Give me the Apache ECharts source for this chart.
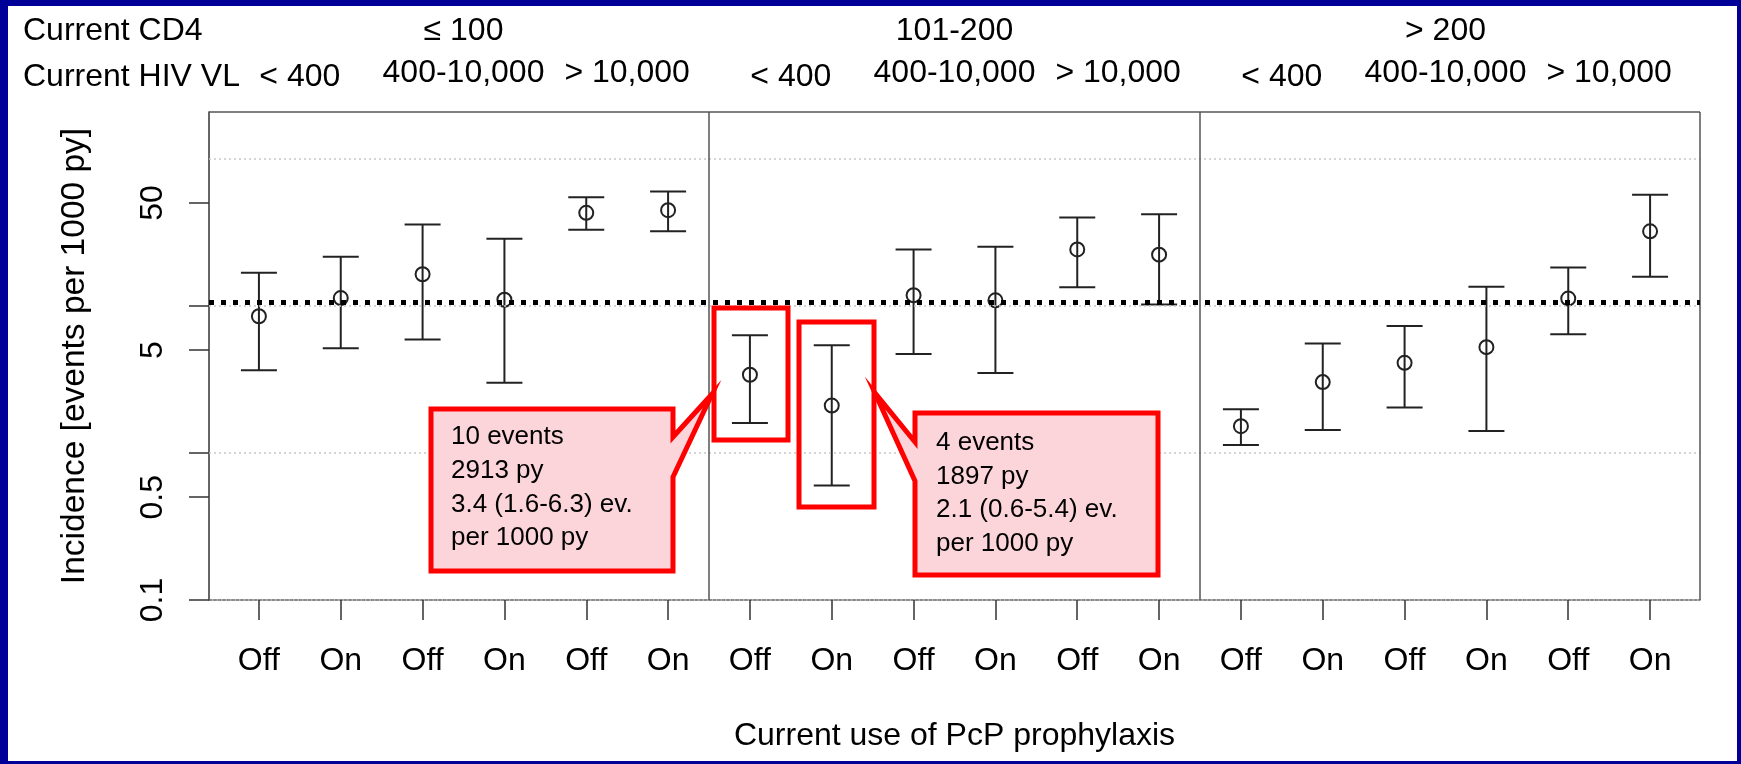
<!DOCTYPE html>
<html><head><meta charset="utf-8">
<script src="https://cdn.jsdelivr.net/npm/echarts@6/dist/echarts.min.js"></script>
<style>
html,body{margin:0;padding:0;width:1741px;height:764px;overflow:hidden;background:#000099;}
#panel{position:absolute;left:8px;top:6px;width:1729px;height:755px;background:#ffffff;}
#chart{position:absolute;left:0;top:0;width:1741px;height:764px;}
</style></head>
<body><div id="panel"></div><div id="chart"></div>
<script>
// ---------------- data ----------------
const categories = ['Off','On','Off','On','Off','On','Off','On','Off','On','Off','On','Off','On','Off','On','Off','On'];
const estimate = [8.5, 11.3, 16.4, 11.0, 42.9, 44.7, 3.4, 2.1, 11.8, 10.9, 24.2, 22.3, 1.52, 3.03, 4.1, 5.24, 11.2, 32.1];
const lower    = [3.65, 5.15, 5.9, 3.0, 32.9, 32.2, 1.6, 0.6, 4.7, 3.5, 13.4, 10.2, 1.13, 1.43, 2.04, 1.41, 6.4, 15.8];
const upper    = [16.8, 21.6, 35.7, 28.6, 54.8, 59.9, 6.3, 5.4, 24.2, 25.2, 39.9, 42.0, 1.98, 5.55, 7.3, 13.5, 18.2, 56.9];
const cd4Groups = ['≤ 100', '101-200', '> 200'];
const vlGroups  = ['< 400', '400-10,000', '> 10,000'];
const yTickValues  = [0.1, 0.5, 1, 5, 10, 50];
const yLabelValues = [0.1, 0.5, 5, 50];
const gridLineValues = [1, 10, 100];
const referenceRate = 10.5;
const panelBreaks = [6.5, 12.5];
const callout1Lines = ['10 events', '2913 py', '3.4 (1.6-6.3) ev.', 'per 1000 py'];
const callout2Lines = ['4 events', '1897 py', '2.1 (0.6-5.4) ev.', 'per 1000 py'];

// ---------------- layout constants ----------------
const XMIN = 0.39, XMAX = 18.61, YMIN = 0.1, YMAX = 208;
const FONT = '"Liberation Sans", Arial, sans-serif';
const xPositions = categories.map((c, i) => i + 1);
const rows = categories.map((c, i) => [i + 1, lower[i], upper[i], estimate[i]]);

const chart = echarts.init(document.getElementById('chart'), null, {renderer: 'canvas'});

const option = {
  animation: false,
  backgroundColor: 'transparent',
  textStyle: {fontFamily: FONT, color: '#000'},
  grid: {left: 209, right: 41, top: 112, bottom: 164, containLabel: false, show: false},
  xAxis: {
    type: 'value', min: XMIN, max: XMAX,
    axisLine: {show: true, onZero: false, lineStyle: {color: '#666', width: 1.5, type: [3, 1.5]}},
    axisTick: {show: true, customValues: xPositions, length: 20, lineStyle: {color: '#333', width: 1.5}},
    axisLabel: {show: true, customValues: xPositions, margin: 45, fontSize: 32, color: '#000', fontFamily: FONT,
      formatter: v => categories[Math.round(v) - 1] || ''},
    splitLine: {show: false},
    name: 'Current use of PcP prophylaxis', nameLocation: 'middle', nameGap: 120,
    nameTextStyle: {fontSize: 32, color: '#000', fontFamily: FONT}
  },
  yAxis: {
    type: 'log', logBase: 10, min: YMIN, max: YMAX,
    axisLine: {show: true, lineStyle: {color: '#333', width: 1.5}},
    axisTick: {show: true, customValues: yTickValues, length: 20, lineStyle: {color: '#333', width: 1.5}},
    axisLabel: {show: true, customValues: yLabelValues, rotate: 90, margin: 40, fontSize: 32, color: '#000', fontFamily: FONT,
      formatter: v => String(+(+v).toPrecision(3))},
    splitLine: {show: false},
    name: 'Incidence [events per 1000 py]', nameLocation: 'middle', nameRotate: 90, nameGap: 117,
    nameTextStyle: {fontSize: 33.5, color: '#000', fontFamily: FONT}
  },
  series: [
    {
      name: 'frame', type: 'line', data: [], z: 1, silent: true,
      markLine: {
        silent: true, symbol: ['none', 'none'], label: {show: false}, animation: false,
        data: [
          ...gridLineValues.map(v => ({yAxis: v, lineStyle: {color: '#c8c8c8', width: 1.5, type: [2, 3]}})),
          {yAxis: YMAX, lineStyle: {color: '#555', width: 1.5, type: 'solid'}},
          {xAxis: XMAX, lineStyle: {color: '#555', width: 1.5, type: 'solid'}},
          ...panelBreaks.map(v => ({xAxis: v, lineStyle: {color: '#555', width: 1.5, type: 'solid'}}))
        ]
      }
    },
    {
      name: 'errorbars', type: 'custom', z: 2, data: rows,
      encode: {x: 0, y: [1, 2, 3]},
      renderItem: function (params, api) {
        const x = api.value(0);
        const lo = api.coord([x, api.value(1)]);
        const hi = api.coord([x, api.value(2)]);
        const pt = api.coord([x, api.value(3)]);
        const cap = 18;
        const st = {stroke: '#222', lineWidth: 2, fill: null};
        return {type: 'group', children: [
          {type: 'line', shape: {x1: lo[0], y1: lo[1], x2: hi[0], y2: hi[1]}, style: st},
          {type: 'line', shape: {x1: lo[0] - cap, y1: lo[1], x2: lo[0] + cap, y2: lo[1]}, style: st},
          {type: 'line', shape: {x1: hi[0] - cap, y1: hi[1], x2: hi[0] + cap, y2: hi[1]}, style: st},
          {type: 'circle', shape: {cx: pt[0], cy: pt[1], r: 7}, style: {stroke: '#222', lineWidth: 2, fill: 'none'}}
        ]};
      }
    },
    {
      name: 'reference', type: 'line', data: [], z: 3, silent: true,
      markLine: {
        silent: true, symbol: ['none', 'none'], label: {show: false}, animation: false,
        data: [{yAxis: referenceRate, lineStyle: {color: '#000', width: 5, type: [5, 7]}}]
      }
    }
  ]
};
chart.setOption(option);

// ---------------- header labels and callouts ----------------
const px = v => chart.convertToPixel({xAxisIndex: 0}, v);
const graphics = [];
const txt = (text, x, y, align, size) => ({
  type: 'text', z: 10, silent: true,
  style: {text: text, x: x, y: y, fill: '#000', font: (size || 32) + 'px ' + FONT, textAlign: align || 'center', textVerticalAlign: 'middle'}
});
graphics.push(txt('Current CD4', 23, 31, 'left'));
graphics.push(txt('Current HIV VL', 23, 77, 'left'));
cd4Groups.forEach((g, p) => graphics.push(txt(g, px(p * 6 + 3.5), 31)));
for (let p = 0; p < 3; p++) {
  vlGroups.forEach((g, k) => graphics.push(txt(g, px(p * 6 + 2 * k + 1.5), k === 0 ? 77 : 73)));
}
// highlight boxes
graphics.push({type: 'rect', z: 11, silent: true, shape: {x: 714, y: 308, width: 74, height: 132},
  style: {fill: 'none', stroke: '#ff0000', lineWidth: 5}});
graphics.push({type: 'rect', z: 11, silent: true, shape: {x: 799, y: 322, width: 75, height: 185},
  style: {fill: 'none', stroke: '#ff0000', lineWidth: 5}});
// callout 1
graphics.push({type: 'polygon', z: 11, silent: true,
  shape: {points: [[431, 409], [673, 409], [673, 437], [712, 394], [673, 477], [673, 571], [431, 571]]},
  style: {fill: '#fcd5da', stroke: '#ff0000', lineWidth: 5, lineJoin: 'miter'}});
graphics.push({type: 'text', z: 12, silent: true,
  style: {text: callout1Lines.join('\n'), x: 451, y: 420, fill: '#000', font: '26px ' + FONT,
    lineHeight: 33.8, textAlign: 'left', textVerticalAlign: 'top'}});
// callout 2
graphics.push({type: 'polygon', z: 11, silent: true,
  shape: {points: [[915, 413], [1158, 413], [1158, 575], [915, 575], [915, 481], [875, 393], [915, 442]]},
  style: {fill: '#fcd5da', stroke: '#ff0000', lineWidth: 5, lineJoin: 'miter'}});
graphics.push({type: 'text', z: 12, silent: true,
  style: {text: callout2Lines.join('\n'), x: 936, y: 426.5, fill: '#000', font: '26px ' + FONT,
    lineHeight: 33.5, textAlign: 'left', textVerticalAlign: 'top'}});

chart.setOption({graphic: graphics});
</script>
</body></html>
